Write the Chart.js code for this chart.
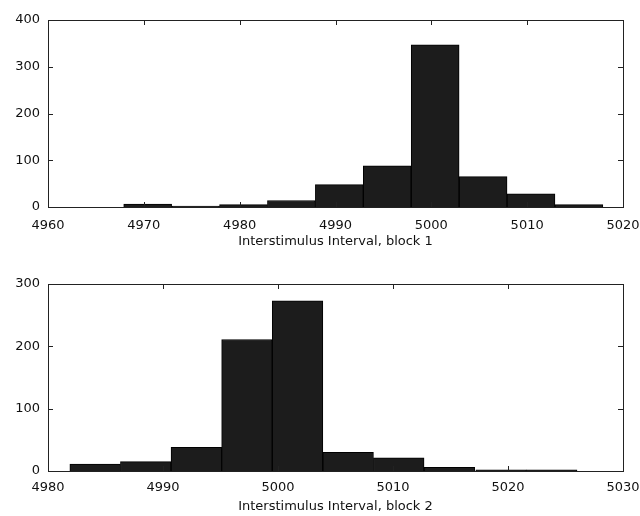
<!DOCTYPE html>
<html>
<head>
  <title>Interstimulus Interval</title>
  <script src="https://cdn.jsdelivr.net/npm/chart.js@4.4.0/dist/chart.umd.min.js"></script>
  <style>
    body {
      margin: 0;
      background: #fff;
    }
    .box {
      position: absolute;
      left: 0;
      width: 640px;
      height: 258px;
    }
    #top { top: 0; }
    #bottom { top: 258px; }
  </style>
</head>
<body>
  <div class="box" id="top"><canvas id="chart1"></canvas></div>
  <div class="box" id="bottom"><canvas id="chart2"></canvas></div>

  <script>
    // block 1 histogram (bin centres, counts)
    const binCenters1 = [4970.4, 4975.4, 4980.4, 4985.4, 4990.4, 4995.4, 5000.4, 5005.4, 5010.4, 5015.4];
    const counts1 = [6, 2, 5, 14, 48, 88, 347, 65, 28, 5];
    const xTicks1 = [4960, 4970, 4980, 4990, 5000, 5010, 5020];
    const yTicks1 = [0, 100, 200, 300, 400];

    // block 2 histogram
    const binCenters2 = [4984.1, 4988.5, 4992.9, 4997.3, 5001.7, 5006.1, 5010.5, 5014.9, 5019.4, 5023.8];
    const counts2 = [11, 15, 38, 211, 273, 30, 21, 6, 2, 2];
    const xTicks2 = [4980, 4990, 5000, 5010, 5020, 5030];
    const yTicks2 = [0, 100, 200, 300];

    const font = { family: 'DejaVu Sans', size: 13 };

    // frame + inward ticks on all four sides
    const framePlugin = {
      id: 'frame',
      afterDraw(chart) {
        const ctx = chart.ctx;
        const a = chart.chartArea;
        const xs = chart.scales.x, ys = chart.scales.y;
        const len = 5;
        ctx.save();
        ctx.strokeStyle = '#222';
        ctx.lineWidth = 1;
        ctx.strokeRect(Math.round(a.left) + 0.5, Math.round(a.top) + 0.5,
          Math.round(a.right - a.left), Math.round(a.bottom - a.top));
        ctx.beginPath();
        xs.ticks.forEach(t => {
          const px = Math.round(xs.getPixelForValue(t.value)) + 0.5;
          ctx.moveTo(px, a.bottom); ctx.lineTo(px, a.bottom - len);
          ctx.moveTo(px, a.top); ctx.lineTo(px, a.top + len);
        });
        ys.ticks.forEach(t => {
          const py = Math.round(ys.getPixelForValue(t.value)) + 0.5;
          ctx.moveTo(a.left, py); ctx.lineTo(a.left + len, py);
          ctx.moveTo(a.right, py); ctx.lineTo(a.right - len, py);
        });
        ctx.stroke();
        ctx.restore();
      }
    };

    function makeHist(id, centers, counts, xTicks, yTicks, title, padTop, xHeight, tickPad, titlePad) {
      const ctx = document.getElementById(id).getContext('2d');
      return new Chart(ctx, {
        type: 'bar',
        data: {
          datasets: [{
            data: centers.map((c, i) => ({ x: c, y: counts[i] })),
            backgroundColor: '#1c1c1c',
            borderColor: '#000',
            borderWidth: 1,
            barPercentage: 1,
            categoryPercentage: 1
          }]
        },
        options: {
          responsive: true,
          maintainAspectRatio: false,
          animation: false,
          layout: { padding: { top: padTop, right: 17, left: 0, bottom: 0 } },
          plugins: { legend: { display: false }, tooltip: { enabled: false } },
          scales: {
            x: {
              type: 'linear',
              min: xTicks[0],
              max: xTicks[xTicks.length - 1],
              offset: false,
              grid: { display: false, drawTicks: false, tickLength: 0 },
              border: { display: false },
              afterBuildTicks: s => { s.ticks = xTicks.map(v => ({ value: v })); },
              afterFit: s => { s.height = xHeight; s.paddingLeft = 0; s.paddingRight = 0; },
              ticks: { color: '#111', font: font, padding: tickPad, maxRotation: 0, callback: v => String(v) },
              title: {
                display: true,
                text: title,
                color: '#111',
                font: font,
                padding: { top: 0, bottom: titlePad }
              }
            },
            y: {
              min: yTicks[0],
              max: yTicks[yTicks.length - 1],
              grid: { display: false, drawTicks: false, tickLength: 0 },
              border: { display: false },
              afterBuildTicks: s => { s.ticks = yTicks.map(v => ({ value: v })); },
              afterFit: s => { s.width = 48; s.paddingTop = 0; s.paddingBottom = 0; },
              ticks: { color: '#111', font: font, padding: 8, callback: v => String(v) }
            }
          }
        },
        plugins: [framePlugin]
      });
    }

    makeHist('chart1', binCenters1, counts1, xTicks1, yTicks1, 'Interstimulus Interval, block 1', 20, 51, 11, 9);
    makeHist('chart2', binCenters2, counts2, xTicks2, yTicks2, 'Interstimulus Interval, block 2', 26, 45, 9, 2);
  </script>
</body>
</html>
